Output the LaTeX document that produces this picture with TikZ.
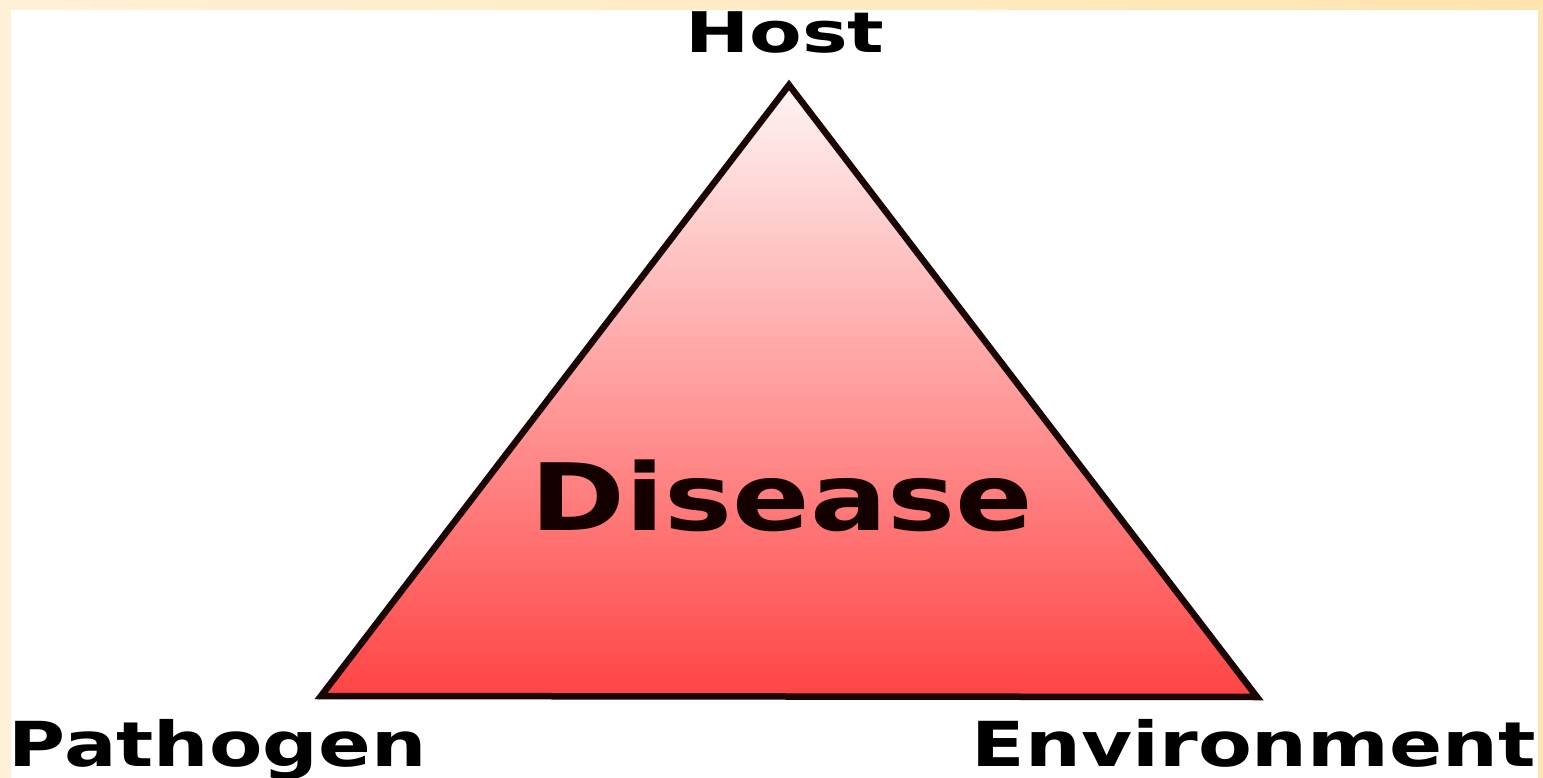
\documentclass[tikz,border=0pt]{standalone}
\usepackage{fontspec}
\setmainfont{DejaVu Sans}
\usepackage{graphicx}
\definecolor{creamL}{HTML}{FFF1D8}
\definecolor{creamR}{HTML}{FFE4AE}
\definecolor{edge}{HTML}{1A0505}
\definecolor{fillTop}{HTML}{FFF4F4}
\definecolor{fillBot}{HTML}{FF4444}
\definecolor{ink}{HTML}{150000}
\begin{document}
\begin{tikzpicture}[x=1pt,y=-1pt,
  lbl/.style={inner sep=0pt,outer sep=0pt,text=black}]
\useasboundingbox (0,0) rectangle (1543,778);
\shade[left color=creamL,right color=creamR] (0,0) rectangle (1543,778);
\fill[white] (11,10) rectangle (1538,778);
\coordinate (H) at (789,85);
\coordinate (P) at (321,696);
\coordinate (E) at (1257,697);
\shade[top color=fillTop,bottom color=fillBot] (H) -- (P) -- (E) -- cycle;
\draw[edge,line width=6.5pt,line join=miter] (H) -- (P) -- (E) -- cycle;
\node[lbl,anchor=base] (host) at (785,53) {\scalebox{1.37}[1]{\fontsize{56}{60}\selectfont\bfseries Host}};
\node[lbl,anchor=base west] (path) at (9,766) {\scalebox{1.255}[1]{\fontsize{62}{66}\selectfont\bfseries Pathogen}};
\node[lbl,anchor=base east] (env) at (1536,766) {\scalebox{1.265}[1]{\fontsize{62}{66}\selectfont\bfseries Environment}};
\node[lbl,anchor=base,text=ink] (dis) at (782,530) {\scalebox{1.23}[1]{\fontsize{93}{98}\selectfont\bfseries Disease}};
\end{tikzpicture}
\end{document}
